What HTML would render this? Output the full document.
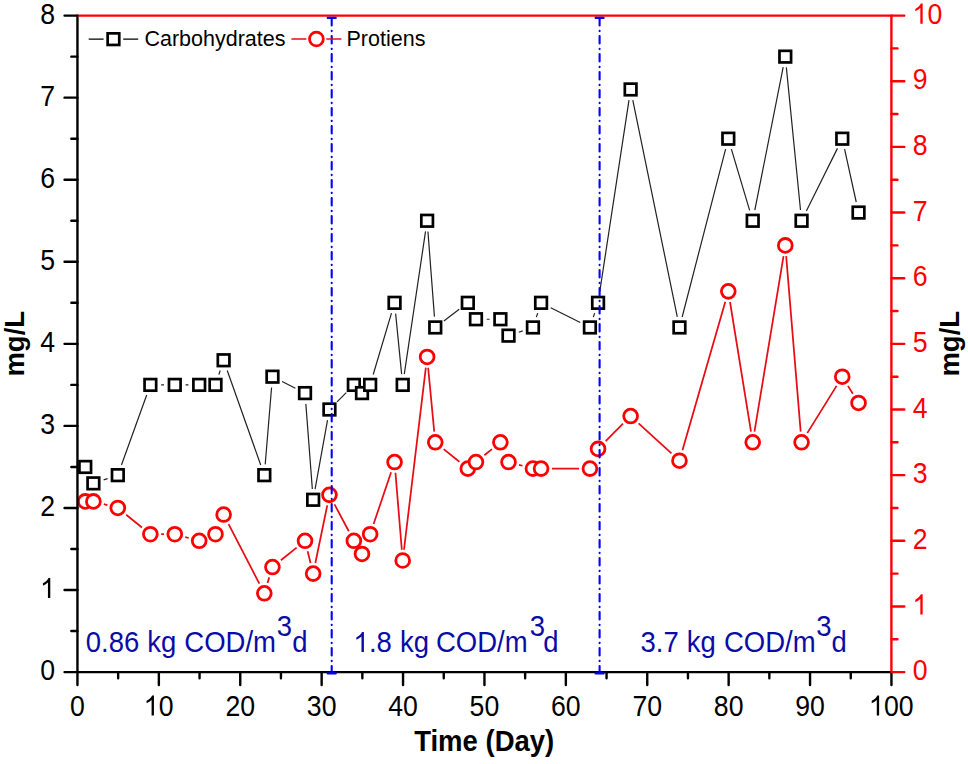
<!DOCTYPE html>
<html><head><meta charset="utf-8"><style>
html,body{margin:0;padding:0;background:#fff;}
body{width:968px;height:764px;overflow:hidden;font-family:"Liberation Sans",sans-serif;}
svg{display:block;}
</style></head><body>
<svg width="968" height="764" viewBox="0 0 968 764">
<rect width="968" height="764" fill="#fff"/>
<path d="M103.62 479.92L107.56 478.59M121.46 464.99L146.7 395.04M161.16 384.88L163.98 384.88M185.58 384.88L188.4 384.88M218.87 374.63L220.23 370.52M227.23 370.44L260.71 464.97M265.21 464.39L271.57 387.44M282.1 381.54L295.38 388.23M305.84 403.86L312.34 489M315.08 489.14L327.52 420.13M337.05 401.83L346.25 392.55M373.22 374.53L391.48 313.17M395.63 313.57L401.63 374.13M404.29 374.2L425.53 231.44M427.94 231.52L434.44 316.67M443.87 320.92L459.21 309.33M486.76 319.23L489.58 319.23M518.76 332.2L522.7 330.88M536.33 317.18L537.69 313.07M550.72 307.68L580.28 322.58M593.31 317.18L594.67 313.07M599.69 292.14L628.99 100.13M632.79 100.04L677.29 316.86M682.17 316.98L725.59 149.15M731.38 149.05L749.64 210.4M754.82 210.16L783.18 67.22M786.35 67.38L800.49 210.01M806.36 211.08L837.46 148.37M844.58 149.24L856.22 202" stroke="#222" stroke-width="1.2" fill="none"/>
<rect x="79.44" y="461.14" width="11.6" height="11.6" fill="#fff" stroke="#000" stroke-width="2.7"/>
<rect x="87.58" y="477.56" width="11.6" height="11.6" fill="#fff" stroke="#000" stroke-width="2.7"/>
<rect x="112" y="469.35" width="11.6" height="11.6" fill="#fff" stroke="#000" stroke-width="2.7"/>
<rect x="144.56" y="379.08" width="11.6" height="11.6" fill="#fff" stroke="#000" stroke-width="2.7"/>
<rect x="168.98" y="379.08" width="11.6" height="11.6" fill="#fff" stroke="#000" stroke-width="2.7"/>
<rect x="193.4" y="379.08" width="11.6" height="11.6" fill="#fff" stroke="#000" stroke-width="2.7"/>
<rect x="209.68" y="379.08" width="11.6" height="11.6" fill="#fff" stroke="#000" stroke-width="2.7"/>
<rect x="217.82" y="354.46" width="11.6" height="11.6" fill="#fff" stroke="#000" stroke-width="2.7"/>
<rect x="258.52" y="469.35" width="11.6" height="11.6" fill="#fff" stroke="#000" stroke-width="2.7"/>
<rect x="266.66" y="370.88" width="11.6" height="11.6" fill="#fff" stroke="#000" stroke-width="2.7"/>
<rect x="299.22" y="387.29" width="11.6" height="11.6" fill="#fff" stroke="#000" stroke-width="2.7"/>
<rect x="307.36" y="493.97" width="11.6" height="11.6" fill="#fff" stroke="#000" stroke-width="2.7"/>
<rect x="323.64" y="403.7" width="11.6" height="11.6" fill="#fff" stroke="#000" stroke-width="2.7"/>
<rect x="348.06" y="379.08" width="11.6" height="11.6" fill="#fff" stroke="#000" stroke-width="2.7"/>
<rect x="356.2" y="387.29" width="11.6" height="11.6" fill="#fff" stroke="#000" stroke-width="2.7"/>
<rect x="364.34" y="379.08" width="11.6" height="11.6" fill="#fff" stroke="#000" stroke-width="2.7"/>
<rect x="388.76" y="297.02" width="11.6" height="11.6" fill="#fff" stroke="#000" stroke-width="2.7"/>
<rect x="396.9" y="379.08" width="11.6" height="11.6" fill="#fff" stroke="#000" stroke-width="2.7"/>
<rect x="421.32" y="214.96" width="11.6" height="11.6" fill="#fff" stroke="#000" stroke-width="2.7"/>
<rect x="429.46" y="321.64" width="11.6" height="11.6" fill="#fff" stroke="#000" stroke-width="2.7"/>
<rect x="462.02" y="297.02" width="11.6" height="11.6" fill="#fff" stroke="#000" stroke-width="2.7"/>
<rect x="470.16" y="313.43" width="11.6" height="11.6" fill="#fff" stroke="#000" stroke-width="2.7"/>
<rect x="494.58" y="313.43" width="11.6" height="11.6" fill="#fff" stroke="#000" stroke-width="2.7"/>
<rect x="502.72" y="329.84" width="11.6" height="11.6" fill="#fff" stroke="#000" stroke-width="2.7"/>
<rect x="527.14" y="321.64" width="11.6" height="11.6" fill="#fff" stroke="#000" stroke-width="2.7"/>
<rect x="535.28" y="297.02" width="11.6" height="11.6" fill="#fff" stroke="#000" stroke-width="2.7"/>
<rect x="584.12" y="321.64" width="11.6" height="11.6" fill="#fff" stroke="#000" stroke-width="2.7"/>
<rect x="592.26" y="297.02" width="11.6" height="11.6" fill="#fff" stroke="#000" stroke-width="2.7"/>
<rect x="624.82" y="83.66" width="11.6" height="11.6" fill="#fff" stroke="#000" stroke-width="2.7"/>
<rect x="673.66" y="321.64" width="11.6" height="11.6" fill="#fff" stroke="#000" stroke-width="2.7"/>
<rect x="722.5" y="132.89" width="11.6" height="11.6" fill="#fff" stroke="#000" stroke-width="2.7"/>
<rect x="746.92" y="214.96" width="11.6" height="11.6" fill="#fff" stroke="#000" stroke-width="2.7"/>
<rect x="779.48" y="50.83" width="11.6" height="11.6" fill="#fff" stroke="#000" stroke-width="2.7"/>
<rect x="795.76" y="214.96" width="11.6" height="11.6" fill="#fff" stroke="#000" stroke-width="2.7"/>
<rect x="836.46" y="132.89" width="11.6" height="11.6" fill="#fff" stroke="#000" stroke-width="2.7"/>
<rect x="852.74" y="206.75" width="11.6" height="11.6" fill="#fff" stroke="#000" stroke-width="2.7"/>
<path d="M103.81 504.21L107.37 505.17M126.21 514.76L141.95 527.45M161.16 534.24L163.98 534.24M185.21 537.04L188.77 538M228.58 524.14L259.36 583.72M267.52 583L269.26 577.38M280.87 560.28L296.61 547.58M307.62 551.28L310.56 563.14M315.35 563.05L327.25 505.42M334.51 504.38L348.79 531.26M373.6 524L391.1 472.25M395.45 472.78L401.81 549.73M403.99 549.77L425.83 367.7M428.15 367.73L434.23 431.57M443.67 449.11L459.41 461.8M484.37 455.24L491.97 449.11M518.95 464.82L522.51 465.78M551.88 468.59L579.12 468.59M605.67 441.22L623.01 423.73M638.59 423.35L671.49 453.42M682.45 450.33L725.31 301.71M730.02 301.99L751 431.66M754.48 431.67L783.52 256.03M786.17 256.14L800.67 431.56M807.25 433.15L836.57 385.85M847.95 385.85L852.85 393.76" stroke="#e80c14" stroke-width="1.75" fill="none"/>
<circle cx="85.24" cy="501.41" r="6.9" fill="#fff" stroke="#ff0000" stroke-width="2.8"/>
<circle cx="93.38" cy="501.41" r="6.9" fill="#fff" stroke="#ff0000" stroke-width="2.8"/>
<circle cx="117.8" cy="507.98" r="6.9" fill="#fff" stroke="#ff0000" stroke-width="2.8"/>
<circle cx="150.36" cy="534.24" r="6.9" fill="#fff" stroke="#ff0000" stroke-width="2.8"/>
<circle cx="174.78" cy="534.24" r="6.9" fill="#fff" stroke="#ff0000" stroke-width="2.8"/>
<circle cx="199.2" cy="540.8" r="6.9" fill="#fff" stroke="#ff0000" stroke-width="2.8"/>
<circle cx="215.48" cy="534.24" r="6.9" fill="#fff" stroke="#ff0000" stroke-width="2.8"/>
<circle cx="223.62" cy="514.54" r="6.9" fill="#fff" stroke="#ff0000" stroke-width="2.8"/>
<circle cx="264.32" cy="593.32" r="6.9" fill="#fff" stroke="#ff0000" stroke-width="2.8"/>
<circle cx="272.46" cy="567.06" r="6.9" fill="#fff" stroke="#ff0000" stroke-width="2.8"/>
<circle cx="305.02" cy="540.8" r="6.9" fill="#fff" stroke="#ff0000" stroke-width="2.8"/>
<circle cx="313.16" cy="573.62" r="6.9" fill="#fff" stroke="#ff0000" stroke-width="2.8"/>
<circle cx="329.44" cy="494.85" r="6.9" fill="#fff" stroke="#ff0000" stroke-width="2.8"/>
<circle cx="353.86" cy="540.8" r="6.9" fill="#fff" stroke="#ff0000" stroke-width="2.8"/>
<circle cx="362" cy="553.93" r="6.9" fill="#fff" stroke="#ff0000" stroke-width="2.8"/>
<circle cx="370.14" cy="534.24" r="6.9" fill="#fff" stroke="#ff0000" stroke-width="2.8"/>
<circle cx="394.56" cy="462.02" r="6.9" fill="#fff" stroke="#ff0000" stroke-width="2.8"/>
<circle cx="402.7" cy="560.5" r="6.9" fill="#fff" stroke="#ff0000" stroke-width="2.8"/>
<circle cx="427.12" cy="356.98" r="6.9" fill="#fff" stroke="#ff0000" stroke-width="2.8"/>
<circle cx="435.26" cy="442.32" r="6.9" fill="#fff" stroke="#ff0000" stroke-width="2.8"/>
<circle cx="467.82" cy="468.59" r="6.9" fill="#fff" stroke="#ff0000" stroke-width="2.8"/>
<circle cx="475.96" cy="462.02" r="6.9" fill="#fff" stroke="#ff0000" stroke-width="2.8"/>
<circle cx="500.38" cy="442.32" r="6.9" fill="#fff" stroke="#ff0000" stroke-width="2.8"/>
<circle cx="508.52" cy="462.02" r="6.9" fill="#fff" stroke="#ff0000" stroke-width="2.8"/>
<circle cx="532.94" cy="468.59" r="6.9" fill="#fff" stroke="#ff0000" stroke-width="2.8"/>
<circle cx="541.08" cy="468.59" r="6.9" fill="#fff" stroke="#ff0000" stroke-width="2.8"/>
<circle cx="589.92" cy="468.59" r="6.9" fill="#fff" stroke="#ff0000" stroke-width="2.8"/>
<circle cx="598.06" cy="448.89" r="6.9" fill="#fff" stroke="#ff0000" stroke-width="2.8"/>
<circle cx="630.62" cy="416.06" r="6.9" fill="#fff" stroke="#ff0000" stroke-width="2.8"/>
<circle cx="679.46" cy="460.71" r="6.9" fill="#fff" stroke="#ff0000" stroke-width="2.8"/>
<circle cx="728.3" cy="291.33" r="6.9" fill="#fff" stroke="#ff0000" stroke-width="2.8"/>
<circle cx="752.72" cy="442.32" r="6.9" fill="#fff" stroke="#ff0000" stroke-width="2.8"/>
<circle cx="785.28" cy="245.38" r="6.9" fill="#fff" stroke="#ff0000" stroke-width="2.8"/>
<circle cx="801.56" cy="442.32" r="6.9" fill="#fff" stroke="#ff0000" stroke-width="2.8"/>
<circle cx="842.26" cy="376.68" r="6.9" fill="#fff" stroke="#ff0000" stroke-width="2.8"/>
<circle cx="858.54" cy="402.94" r="6.9" fill="#fff" stroke="#ff0000" stroke-width="2.8"/>
<path d="M77.45 15.6V672.1" stroke="#000" stroke-width="2.4"/>
<path d="M77.45 672.1H891.4" stroke="#000" stroke-width="2.4"/>
<path d="M891.4 15.6V672.1" stroke="#ff0000" stroke-width="2.4"/>
<path d="M76.25 15.6H892.6" stroke="#ff0000" stroke-width="2.4"/>
<path d="M77.45 672.1H64.55M77.45 631.07H71.35M77.45 590.04H64.55M77.45 549.01H71.35M77.45 507.98H64.55M77.45 466.94H71.35M77.45 425.91H64.55M77.45 384.88H71.35M77.45 343.85H64.55M77.45 302.82H71.35M77.45 261.79H64.55M77.45 220.76H71.35M77.45 179.73H64.55M77.45 138.69H71.35M77.45 97.66H64.55M77.45 56.63H71.35M77.45 15.6H64.55M77.45 672.1V685M118.15 672.1V678.2M158.85 672.1V685M199.55 672.1V678.2M240.25 672.1V685M280.95 672.1V678.2M321.65 672.1V685M362.35 672.1V678.2M403.05 672.1V685M443.75 672.1V678.2M484.45 672.1V685M525.15 672.1V678.2M565.85 672.1V685M606.55 672.1V678.2M647.25 672.1V685M687.95 672.1V678.2M728.65 672.1V685M769.35 672.1V678.2M810.05 672.1V685M850.75 672.1V678.2M891.45 672.1V685" stroke="#000" stroke-width="2.4" stroke-linecap="round" fill="none"/>
<path d="M891.4 672.1H904.3M891.4 639.27H897.5M891.4 606.45H904.3M891.4 573.62H897.5M891.4 540.8H904.3M891.4 507.98H897.5M891.4 475.15H904.3M891.4 442.32H897.5M891.4 409.5H904.3M891.4 376.68H897.5M891.4 343.85H904.3M891.4 311.02H897.5M891.4 278.2H904.3M891.4 245.38H897.5M891.4 212.55H904.3M891.4 179.72H897.5M891.4 146.9H904.3M891.4 114.07H897.5M891.4 81.25H904.3M891.4 48.42H897.5M891.4 15.6H904.3" stroke="#ff0000" stroke-width="2.4" stroke-linecap="round" fill="none"/>
<path d="M331.7 18.1V673" stroke="#0000ff" stroke-width="2.1" stroke-linecap="round" stroke-dasharray="7.4 5.2 0.4 5"/>
<path d="M327.65 17.9H335.75M327.65 673.4H335.75" stroke="#0000ff" stroke-width="2.1" stroke-linecap="round"/>
<path d="M599.6 18.1V673" stroke="#0000ff" stroke-width="2.1" stroke-linecap="round" stroke-dasharray="7.4 5.2 0.4 5"/>
<path d="M595.55 17.9H603.65M595.55 673.4H603.65" stroke="#0000ff" stroke-width="2.1" stroke-linecap="round"/>
<text transform="translate(55.2 680.15) scale(0.97 1.065)" font-family="Liberation Sans, sans-serif" font-size="27.5" text-anchor="end" fill="#000">0</text>
<g transform="translate(40.36 598.09) scale(0.97 1.065)" fill="#000"><path transform="translate(0 0) scale(0.01343 -0.01343)" d="M762 0L582 0L582 1090Q515 1030 410 970Q300 905 196 862L196 1030Q340 1100 460 1200Q570 1295 625 1409L762 1409Z"/></g>
<text transform="translate(55.2 516.02) scale(0.97 1.065)" font-family="Liberation Sans, sans-serif" font-size="27.5" text-anchor="end" fill="#000">2</text>
<text transform="translate(55.2 433.96) scale(0.97 1.065)" font-family="Liberation Sans, sans-serif" font-size="27.5" text-anchor="end" fill="#000">3</text>
<text transform="translate(55.2 351.9) scale(0.97 1.065)" font-family="Liberation Sans, sans-serif" font-size="27.5" text-anchor="end" fill="#000">4</text>
<text transform="translate(55.2 269.84) scale(0.97 1.065)" font-family="Liberation Sans, sans-serif" font-size="27.5" text-anchor="end" fill="#000">5</text>
<text transform="translate(55.2 187.78) scale(0.97 1.065)" font-family="Liberation Sans, sans-serif" font-size="27.5" text-anchor="end" fill="#000">6</text>
<text transform="translate(55.2 105.71) scale(0.97 1.065)" font-family="Liberation Sans, sans-serif" font-size="27.5" text-anchor="end" fill="#000">7</text>
<text transform="translate(55.2 23.65) scale(0.97 1.065)" font-family="Liberation Sans, sans-serif" font-size="27.5" text-anchor="end" fill="#000">8</text>
<text transform="translate(912.75 680.15) scale(0.97 1.065)" font-family="Liberation Sans, sans-serif" font-size="27.5" fill="#ff0000">0</text>
<g transform="translate(912.75 614.5) scale(0.97 1.065)" fill="#ff0000"><path transform="translate(0 0) scale(0.01343 -0.01343)" d="M762 0L582 0L582 1090Q515 1030 410 970Q300 905 196 862L196 1030Q340 1100 460 1200Q570 1295 625 1409L762 1409Z"/></g>
<text transform="translate(912.75 548.85) scale(0.97 1.065)" font-family="Liberation Sans, sans-serif" font-size="27.5" fill="#ff0000">2</text>
<text transform="translate(912.75 483.2) scale(0.97 1.065)" font-family="Liberation Sans, sans-serif" font-size="27.5" fill="#ff0000">3</text>
<text transform="translate(912.75 417.55) scale(0.97 1.065)" font-family="Liberation Sans, sans-serif" font-size="27.5" fill="#ff0000">4</text>
<text transform="translate(912.75 351.9) scale(0.97 1.065)" font-family="Liberation Sans, sans-serif" font-size="27.5" fill="#ff0000">5</text>
<text transform="translate(912.75 286.25) scale(0.97 1.065)" font-family="Liberation Sans, sans-serif" font-size="27.5" fill="#ff0000">6</text>
<text transform="translate(912.75 220.6) scale(0.97 1.065)" font-family="Liberation Sans, sans-serif" font-size="27.5" fill="#ff0000">7</text>
<text transform="translate(912.75 154.95) scale(0.97 1.065)" font-family="Liberation Sans, sans-serif" font-size="27.5" fill="#ff0000">8</text>
<text transform="translate(912.75 89.3) scale(0.97 1.065)" font-family="Liberation Sans, sans-serif" font-size="27.5" fill="#ff0000">9</text>
<g transform="translate(912.75 23.65) scale(0.97 1.065)" fill="#ff0000"><path transform="translate(0 0) scale(0.01343 -0.01343)" d="M762 0L582 0L582 1090Q515 1030 410 970Q300 905 196 862L196 1030Q340 1100 460 1200Q570 1295 625 1409L762 1409Z"/><text x="15.29" font-family="Liberation Sans, sans-serif" font-size="27.5">0</text></g>
<text transform="translate(77.45 715.6) scale(0.97 1.065)" font-family="Liberation Sans, sans-serif" font-size="27.5" text-anchor="middle" fill="#000">0</text>
<g transform="translate(144.01 715.6) scale(0.97 1.065)" fill="#000"><path transform="translate(0 0) scale(0.01343 -0.01343)" d="M762 0L582 0L582 1090Q515 1030 410 970Q300 905 196 862L196 1030Q340 1100 460 1200Q570 1295 625 1409L762 1409Z"/><text x="15.29" font-family="Liberation Sans, sans-serif" font-size="27.5">0</text></g>
<text transform="translate(240.25 715.6) scale(0.97 1.065)" font-family="Liberation Sans, sans-serif" font-size="27.5" text-anchor="middle" fill="#000">20</text>
<text transform="translate(321.65 715.6) scale(0.97 1.065)" font-family="Liberation Sans, sans-serif" font-size="27.5" text-anchor="middle" fill="#000">30</text>
<text transform="translate(403.05 715.6) scale(0.97 1.065)" font-family="Liberation Sans, sans-serif" font-size="27.5" text-anchor="middle" fill="#000">40</text>
<text transform="translate(484.45 715.6) scale(0.97 1.065)" font-family="Liberation Sans, sans-serif" font-size="27.5" text-anchor="middle" fill="#000">50</text>
<text transform="translate(565.85 715.6) scale(0.97 1.065)" font-family="Liberation Sans, sans-serif" font-size="27.5" text-anchor="middle" fill="#000">60</text>
<text transform="translate(647.25 715.6) scale(0.97 1.065)" font-family="Liberation Sans, sans-serif" font-size="27.5" text-anchor="middle" fill="#000">70</text>
<text transform="translate(728.65 715.6) scale(0.97 1.065)" font-family="Liberation Sans, sans-serif" font-size="27.5" text-anchor="middle" fill="#000">80</text>
<text transform="translate(810.05 715.6) scale(0.97 1.065)" font-family="Liberation Sans, sans-serif" font-size="27.5" text-anchor="middle" fill="#000">90</text>
<g transform="translate(869.2 715.6) scale(0.97 1.065)" fill="#000"><path transform="translate(0 0) scale(0.01343 -0.01343)" d="M762 0L582 0L582 1090Q515 1030 410 970Q300 905 196 862L196 1030Q340 1100 460 1200Q570 1295 625 1409L762 1409Z"/><text x="15.29" font-family="Liberation Sans, sans-serif" font-size="27.5">00</text></g>
<text transform="translate(484.2 750.8) scale(1 1.04)" font-family="Liberation Sans, sans-serif" font-size="27.5" font-weight="bold" text-anchor="middle" fill="#000">Time (Day)</text>
<text transform="translate(23.6 343.76) rotate(-90)" font-family="Liberation Sans, sans-serif" font-size="27.5" font-weight="bold" text-anchor="middle" fill="#000">mg/L</text>
<text transform="translate(959.3 343.76) rotate(-90)" font-family="Liberation Sans, sans-serif" font-size="27.5" font-weight="bold" text-anchor="middle" fill="#000">mg/L</text>
<text transform="translate(85.83 652.1) scale(1.0 1.06)" font-family="Liberation Sans, sans-serif" font-size="27.5" fill="#0b0ba8">0.86</text>
<text transform="translate(147.15 652.1) scale(1.0 1.06)" font-family="Liberation Sans, sans-serif" font-size="27.5" fill="#0b0ba8">kg</text>
<text transform="translate(184.3 652.1) scale(1.0 1.06)" font-family="Liberation Sans, sans-serif" font-size="27.5" fill="#0b0ba8">COD/m</text>
<text transform="translate(276.85 635.6) scale(1.0 1.06)" font-family="Liberation Sans, sans-serif" font-size="27.5" fill="#0b0ba8">3</text>
<text transform="translate(292.15 652.1) scale(1.0 1.06)" font-family="Liberation Sans, sans-serif" font-size="27.5" fill="#0b0ba8">d</text>
<g transform="translate(353.67 652.1) scale(1.0 1.06)" fill="#0b0ba8"><path transform="translate(0 0) scale(0.01343 -0.01343)" d="M762 0L582 0L582 1090Q515 1030 410 970Q300 905 196 862L196 1030Q340 1100 460 1200Q570 1295 625 1409L762 1409Z"/><text x="15.29" font-family="Liberation Sans, sans-serif" font-size="27.5">.8</text></g>
<text transform="translate(399.95 652.1) scale(1.0 1.06)" font-family="Liberation Sans, sans-serif" font-size="27.5" fill="#0b0ba8">kg</text>
<text transform="translate(436 652.1) scale(1.0 1.06)" font-family="Liberation Sans, sans-serif" font-size="27.5" fill="#0b0ba8">COD/m</text>
<text transform="translate(529.65 635.6) scale(1.0 1.06)" font-family="Liberation Sans, sans-serif" font-size="27.5" fill="#0b0ba8">3</text>
<text transform="translate(543.25 652.1) scale(1.0 1.06)" font-family="Liberation Sans, sans-serif" font-size="27.5" fill="#0b0ba8">d</text>
<text transform="translate(640.45 652.1) scale(1.0 1.06)" font-family="Liberation Sans, sans-serif" font-size="27.5" fill="#0b0ba8">3.7</text>
<text transform="translate(686.75 652.1) scale(1.0 1.06)" font-family="Liberation Sans, sans-serif" font-size="27.5" fill="#0b0ba8">kg</text>
<text transform="translate(724 652.1) scale(1.0 1.06)" font-family="Liberation Sans, sans-serif" font-size="27.5" fill="#0b0ba8">COD/m</text>
<text transform="translate(816.15 635.6) scale(1.0 1.06)" font-family="Liberation Sans, sans-serif" font-size="27.5" fill="#0b0ba8">3</text>
<text transform="translate(831.45 652.1) scale(1.0 1.06)" font-family="Liberation Sans, sans-serif" font-size="27.5" fill="#0b0ba8">d</text>
<path d="M88.7 39.2H103.6M123.2 39.2H138.2" stroke="#000" stroke-width="1.3"/>
<rect x="107.65" y="33.35" width="11.6" height="11.6" fill="none" stroke="#000" stroke-width="2.7"/>
<text x="144.41" y="46.4" font-family="Liberation Sans, sans-serif" font-size="21.5" fill="#000">Carbohydrates</text>
<path d="M291.4 39H306.4M326.3 39H341.4" stroke="#e80c14" stroke-width="1.6"/>
<circle cx="316.4" cy="39" r="6.9" fill="none" stroke="#ff0000" stroke-width="2.8"/>
<text x="346.54" y="46.3" font-family="Liberation Sans, sans-serif" font-size="21.5" fill="#000">Protiens</text>
</svg>
</body></html>
